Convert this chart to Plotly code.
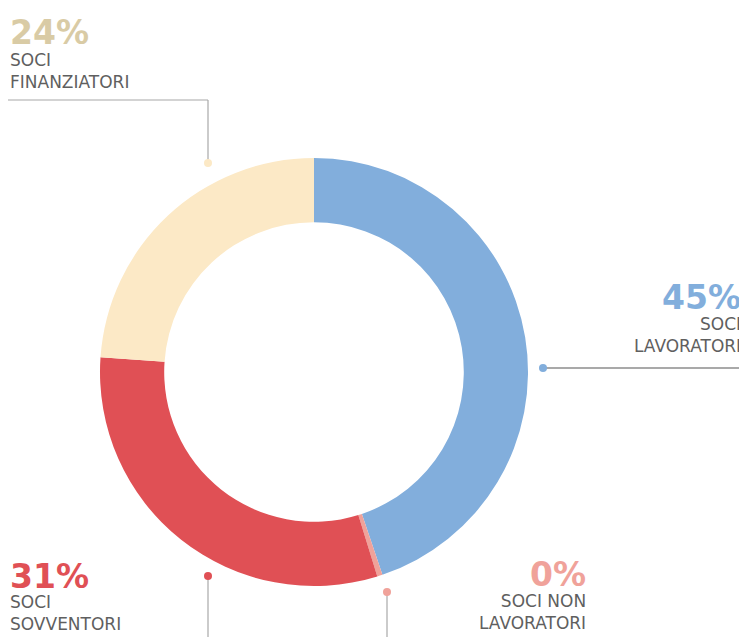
import plotly.graph_objects as go

# composition of the membership (share of members, %)
categories = ["SOCI LAVORATORI", "SOCI NON LAVORATORI", "SOCI SOVVENTORI", "SOCI FINANZIATORI"]
values = [45, 0.4, 31, 24]
pct_labels = ["45%", "0%", "31%", "24%"]
name_labels = ["SOCI<br>LAVORATORI", "SOCI NON<br>LAVORATORI", "SOCI<br>SOVVENTORI", "SOCI<br>FINANZIATORI"]

slice_colors = ["#82AEDC", "#F0A29A", "#E05055", "#FCE9C6"]
pct_colors = ["#82AEDC", "#F0A29A", "#E05055", "#D9CBA5"]

# the page body has an 8px margin, so the figure is drawn 8px in from the corner
OFF = 8
W, H = 747 - OFF, 637 - OFF


def px(x):
    return (x - OFF) / W


def py(y):
    return 1 - (y - OFF) / H


fig = go.Figure()
fig.add_trace(
    go.Pie(
        labels=categories,
        values=values,
        hole=0.7,
        sort=False,
        direction="clockwise",
        rotation=0,
        textinfo="none",
        hoverinfo="label+percent",
        marker=dict(colors=slice_colors, line=dict(width=0)),
        domain=dict(x=[px(100), px(528)], y=[py(586), py(158)]),
        showlegend=False,
    )
)

# label blocks: (slice index, x, anchor, pct y, name block centre y)
label_font = "DejaVu Sans, sans-serif"
blocks = [
    (3, 8, "left", 31, 70),
    (0, 743, "right", 295, 334),
    (2, 8, "left", 574, 611.5),
    (1, 588, "right", 572, 610.5),
]
annotations = []
for idx, x, anchor, y_pct, y_name in blocks:
    annotations.append(
        dict(
            text="<b>" + pct_labels[idx] + "</b>",
            x=px(x), y=py(y_pct + 2), xref="paper", yref="paper",
            xanchor=anchor, yanchor="middle", showarrow=False,
            font=dict(family=label_font, size=33, color=pct_colors[idx]),
        )
    )
    annotations.append(
        dict(
            text=name_labels[idx],
            x=px(x), y=py(y_name + 1), xref="paper", yref="paper",
            xanchor=anchor, yanchor="middle", align=anchor, showarrow=False,
            font=dict(family=label_font, size=17, color="#5f5f5f"),
        )
    )

# leader lines and dots
shapes = []


def seg(x0, y0, x1, y1, color="#a8a8a8"):
    shapes.append(dict(type="line", xref="paper", yref="paper",
                       x0=px(x0), y0=py(y0), x1=px(x1), y1=py(y1),
                       line=dict(color=color, width=1.2)))


def dot(x, y, color, r=4):
    shapes.append(dict(type="circle", xref="paper", yref="paper",
                       x0=px(x - r), y0=py(y + r), x1=px(x + r), y1=py(y - r),
                       fillcolor=color, line=dict(width=0)))


seg(8, 100, 208, 100)
seg(208, 100, 208, 163)
dot(208, 163, slice_colors[3])

seg(543, 368, 747, 368, color="#555555")
dot(543, 368, slice_colors[0])

seg(208, 576, 208, 637)
dot(208, 576, slice_colors[2])

seg(387, 592, 387, 637)
dot(387, 592, slice_colors[1])

fig.update_layout(
    width=W,
    height=H,
    margin=dict(l=0, r=0, t=0, b=0),
    paper_bgcolor="white",
    plot_bgcolor="white",
    annotations=annotations,
    shapes=shapes,
)

fig.write_html("out.html")
